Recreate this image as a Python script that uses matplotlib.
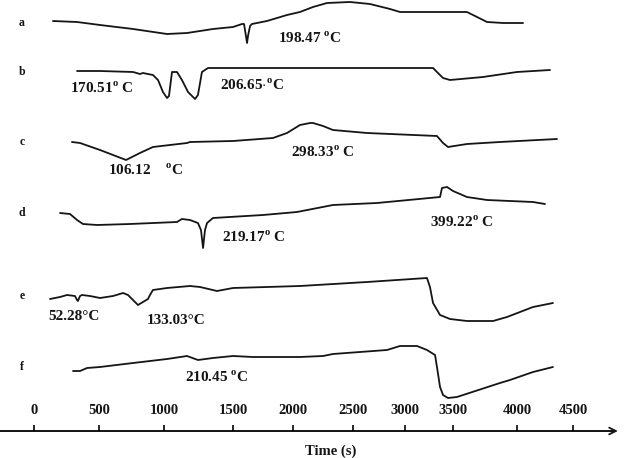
import matplotlib
matplotlib.use("Agg")
from matplotlib import pyplot as plt
import numpy as np

plt.rcParams['font.family'] = ['Liberation Serif', 'DejaVu Serif']
plt.rcParams['font.weight'] = 'bold'
plt.rcParams['mathtext.fontset'] = 'custom'
plt.rcParams['mathtext.rm'] = 'Liberation Serif:bold'
plt.rcParams['mathtext.bf'] = 'Liberation Serif:bold'

# time axis ticks (s)
ticks = [0, 500, 1000, 1500, 2000, 2500, 3000, 3500, 4000, 4500]

# DSC traces: time (s) and signal deflection (arb. units, up = exo)
time_a = [146, 331, 508, 762, 1022, 1167, 1355, 1500, 1575, 1592, 1608, 1617, 1625, 1642, 1658,
          1783, 1950, 2058, 2167, 2283, 2475, 2663, 2856, 2952, 3609, 3688, 3766, 3891, 4054]
dsc_a = [0, -1, -4, -8, -13, -12, -8, -6, -3, -3, -15, -22, -15, -5, -3,
         0, 6, 9, 14, 18, 19, 17, 12, 9, 9, 4, -1, -2, -2]

time_b = [331, 508, 762, 815, 838, 915, 954, 992, 1022, 1036, 1058, 1094, 1130, 1174, 1225,
          1246, 1275, 1319, 2058, 3292, 3333, 3396, 3469, 3734, 4000, 4295]
dsc_b = [0, 0, -1, -3, -2, -4, -9, -21, -27, -25, -1, -1, -9, -21, -28,
         -24, -1, 3, 3, 3, -1, -7, -9, -6, -1, 1]

time_c = [292, 354, 508, 608, 708, 815, 915, 1167, 1188, 1500, 1833, 1950, 2058, 2142, 2167,
          2250, 2333, 2635, 3333, 3396, 3448, 3609, 3867, 4357]
dsc_c = [0, -1, -8, -13, -18, -11, -5, -1, 0, 1, 4, 9, 17, 19, 19,
         16, 12, 9, 6, -1, -5, -2, 0, 3]

time_d = [200, 277, 331, 377, 485, 738, 1094, 1130, 1188, 1246, 1268, 1283, 1297, 1312, 1355,
          1750, 2033, 2333, 2731, 3365, 3385, 3438, 3500, 3609, 3766, 4143, 4250]
dsc_d = [0, -1, -7, -11, -12, -11, -9, -6, -7, -10, -17, -35, -17, -10, -5,
         -2, 1, 8, 10, 16, 25, 26, 22, 16, 13, 11, 9]

time_e = [123, 200, 254, 315, 331, 338, 354, 369, 431, 508, 608, 685, 723, 800, 838, 877, 892,
          915, 1022, 1188, 1261, 1384, 1500, 1783, 2058, 2635, 3229, 3260, 3292, 3365, 3469,
          3609, 3813, 3922, 4143, 4321]
dsc_e = [0, 2, 4, 3, -1, -2, 3, 4, 3, 1, 3, 6, 4, -6, -3, 0, 4,
         9, 11, 13, 12, 8, 11, 12, 13, 17, 21, 12, -4, -16, -20,
         -22, -22, -18, -8, -4]

time_f = [300, 354, 408, 508, 762, 1022, 1167, 1246, 1355, 1500, 1667, 2058, 2250, 2333, 2827,
          2952, 3125, 3229, 3313, 3333, 3365, 3396, 3448, 3531, 3867, 3945, 4143, 4321]
dsc_f = [0, 0, 3, 4, 8, 12, 15, 11, 13, 15, 14, 14, 15, 17, 21,
         25, 25, 21, 16, 4, -16, -24, -27, -26, -12, -9, -1, 4]

# peak labels: (trace, text, time at left edge of text)
peaks = [
    ('a', '198.47 $^{\\mathrm{o}}$C', 1875),
    ('b', '170.51$^{\\mathrm{o}}$ C', 277),
    ('b', '206.65$\\cdot^{\\mathrm{o}}$C', 1406),
    ('c', '106.12    $^{\\mathrm{o}}$C', 569),
    ('c', '298.33$^{\\mathrm{o}}$ C', 1983),
    ('d', '219.17$^{\\mathrm{o}}$ C', 1420),
    ('d', '399.22$^{\\mathrm{o}}$ C', 3260),
    ('e', '52.28°C', 108),
    ('e', '133.03°C', 869),
    ('f', '210.45 $^{\\mathrm{o}}$C', 1152),
]

traces = {'a': (time_a, dsc_a), 'b': (time_b, dsc_b), 'c': (time_c, dsc_c),
          'd': (time_d, dsc_d), 'e': (time_e, dsc_e), 'f': (time_f, dsc_f)}

# layout: vertical stacking of traces and text offsets
offset = {'a': 21, 'b': 71, 'c': 142, 'd': 213, 'e': 299, 'f': 371}
letter_y = {'a': 23, 'b': 72, 'c': 142, 'd': 213, 'e': 296, 'f': 367}
label_y = [38, 88, 85, 170, 152, 237, 222, 317, 321, 377]

# the hand drawn time axis is not quite linear
scale_t = [-261] + ticks + [4955]
scale_p = [0, 34, 99, 164, 233, 293, 353, 405, 453, 517, 573, 624]


def fwd(t):
    return np.interp(t, scale_t, scale_p)


def inv(p):
    return np.interp(p, scale_p, scale_t)


fig = plt.figure(figsize=(6.24, 4.58), dpi=100)
ax = fig.add_axes([0, 0, 1, 1])
ax.set_xscale('function', functions=(fwd, inv))

ink = '#151515'
for name, (t, s) in traces.items():
    ax.plot(t, np.array(s) - offset[name], color=ink, lw=1.3,
            solid_joinstyle='round', solid_capstyle='round')
    ax.text(-92, -letter_y[name], name, ha='center', va='center', fontsize=8.5, color=ink)

for (name, txt, t), y in zip(peaks, label_y):
    ax.text(t, -y, txt, ha='left', va='center', fontsize=11, color=ink)

ax.set_xlim(-261, 4955)
ax.set_ylim(-458, 0)

for side in ['left', 'right', 'bottom']:
    ax.spines[side].set_visible(False)
ax.spines['top'].set_position(('data', -431))
ax.spines['top'].set_bounds(-261, 4850)
ax.spines['top'].set_linewidth(1.3)
ax.xaxis.set_ticks_position('top')
ax.set_xticks(ticks)
ax.set_xticklabels([str(v) for v in ticks])
ax.tick_params(axis='x', direction='out', length=4, width=1.3, pad=6, labelsize=10.5,
               colors=ink)
ax.set_yticks([])
ax.annotate('', xy=(4925, -431), xytext=(4820, -431),
            arrowprops=dict(arrowstyle='->', lw=1.3, color=ink, mutation_scale=12))
ax.text(2317, -451, 'Time (s)', ha='center', va='center', fontsize=10.5, color=ink)

fig.savefig('out.png', dpi=100)
